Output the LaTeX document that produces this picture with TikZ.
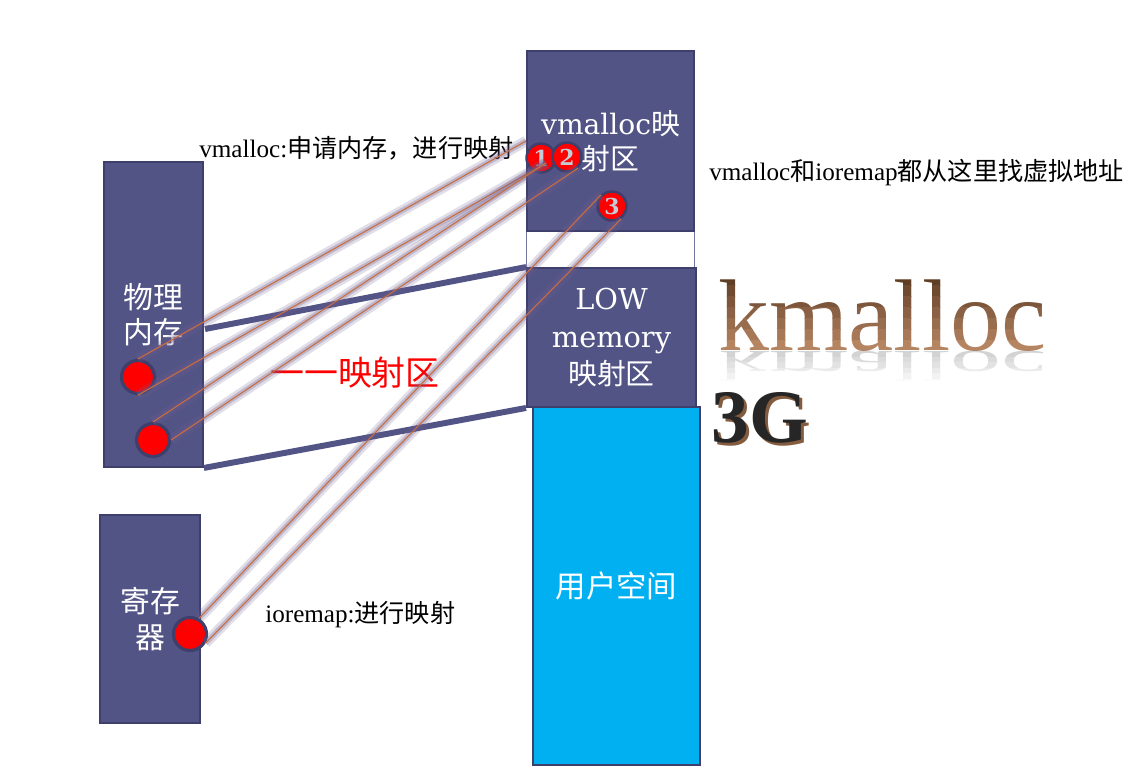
\documentclass[tikz,border=0pt]{standalone}
\usepackage{fontspec}
\usepackage{graphicx}
\setmainfont{Liberation Serif}
\newfontfamily\cjk{Noto Sans CJK SC}
\newfontfamily\boxfont{DejaVu Serif}
\newcommand{\zh}[1]{{\cjk #1}}
\definecolor{slate}{RGB}{83,84,134}
\definecolor{slateedge}{RGB}{62,63,107}
\definecolor{sky}{RGB}{0,176,240}
\definecolor{wire}{RGB}{200,110,60}
\definecolor{glow}{RGB}{110,90,140}
\definecolor{kdark}{RGB}{95,62,38}
\definecolor{klight}{RGB}{185,135,100}
\definecolor{digit}{RGB}{195,205,215}
\tikzset{
  box/.style={draw=slateedge, fill=slate, line width=1.1pt, inner sep=0pt, text=white, align=center},
  dot/.style={circle, draw=slateedge, fill=red, line width=1.8pt, minimum size=.66cm, inner sep=0pt},
  numdot/.style={dot, minimum size=.58cm, line width=1.4pt, text=digit, font=\boxfont\bfseries\fontsize{12.5}{12.5}\selectfont},
  wire/.style={draw=wire, line width=.6pt, preaction={draw=glow, draw opacity=.2, line width=6pt}, preaction={draw=glow, draw opacity=.3, line width=3pt}},
  band/.style={draw=slate, line width=3.4pt},
  gapline/.style={draw=slate!80, line width=.6pt},
  note/.style={inner sep=0pt, anchor=west, font=\fontsize{14.3}{17}\selectfont},
  kmal/.style={inner sep=0pt, anchor=base west, font=\fontsize{58}{60}\selectfont}
}
\begin{document}
\begin{tikzpicture}[x=.02cm,y=-.02cm]
  \useasboundingbox (0,0) rectangle (1147,782);
  % memory blocks
  \node[box, minimum width=1.98cm, minimum height=6.1cm, font=\cjk\fontsize{17}{19.8}\selectfont] (phys) at (153.5,314.5) {物理\\内存};
  \node[box, minimum width=2cm, minimum height=4.16cm, font=\cjk\fontsize{17}{21}\selectfont] (reg) at (150,619) {寄存\\器};
  \node[box, minimum width=3.34cm, minimum height=3.6cm, font=\cjk\fontsize{16.4}{19.8}\selectfont] (vm) at (610.5,141) {{\boxfont\fontsize{16}{19.8}\selectfont vmalloc}映\\射区};
  \node[box, minimum width=3.38cm, minimum height=2.78cm, font=\fontsize{16.4}{21.5}\selectfont] (low) at (611.5,337.5) {{\boxfont LOW}\\{\boxfont memory}\\\zh{映射区}};
  \node[box, fill=sky, minimum width=3.34cm, minimum height=7.16cm, font=\cjk\fontsize{17.3}{20}\selectfont] (user) at (616.5,586) {用户空间};
  \draw[gapline] (vm.south west) -- (vm.south west |- low.north);
  \draw[gapline] (vm.south east) -- (vm.south east |- low.north);
  % direct mapping
  \coordinate (p1) at (205,329);
  \draw[band] (p1) -- (low.north west);
  \draw[band] (phys.south east) -- (low.south west);
  % labels
  \node[note] (tvm) at (199,148) {vmalloc:\zh{申请内存，进行映射}};
  \node[note] (tboth) at (709,173) {vmalloc\zh{和}ioremap\zh{都从这里找虚拟地址}};
  \node[note] (tio) at (265,615) {ioremap:\zh{进行映射}};
  \node[inner sep=0pt, text=red, font=\cjk\fontsize{19.3}{20}\selectfont] (tmap) at (355,373) {一一映射区};
  % kmalloc with gradient and reflection
  \foreach \k [evaluate=\k as \p using {int(100-16*\k)}] in {0,...,6} {
    \begin{scope}
      \clip (700,{274+11*\k}) rectangle (1080,{285.5+11*\k});
      \node[kmal, text=kdark!\p!klight] (km\k) at (718,350) {kmalloc};
    \end{scope}
  }
  \node[kmal, text=gray, opacity=.35] (kref) at (718,351) {\scalebox{1}[-.42]{kmalloc}};
  \foreach \k in {1,...,5}
    \fill[white, opacity=.18*\k] (700,{351+5.5*\k}) rectangle (1080,{356.5+5.5*\k});
  \node[anchor=base west, inner sep=0pt, font=\bfseries\fontsize{43}{45}\selectfont, text=black!85] (g3) at (711,442) {\rlap{\kern1.8pt\raisebox{-1.8pt}{\color{kdark!60!klight}3G}}3G};
  % dots
  \node[dot] (dA) at (138,377) {};
  \node[dot] (dB) at (153,440) {};
  \node[dot] (dR) at (190,634) {};
  \node[numdot] (n1) at (541,158) {1};
  \node[numdot] (n2) at (567,157) {2};
  \node[numdot] (n3) at (612,206) {3};
  % vmalloc / ioremap wires
  \coordinate (e1) at (546,163);
  \draw[wire] (dA.north) -- (vm.west);
  \draw[wire] (dA.south) -- (e1);
  \draw[wire] (dB.north) -- (e1);
  \draw[wire] (dB.east) -- (n2.-45);
  \draw[wire] (dR.60) -- (n3.135);
  \draw[wire] (dR.-30) -- (n3.-55);
\end{tikzpicture}
\end{document}
